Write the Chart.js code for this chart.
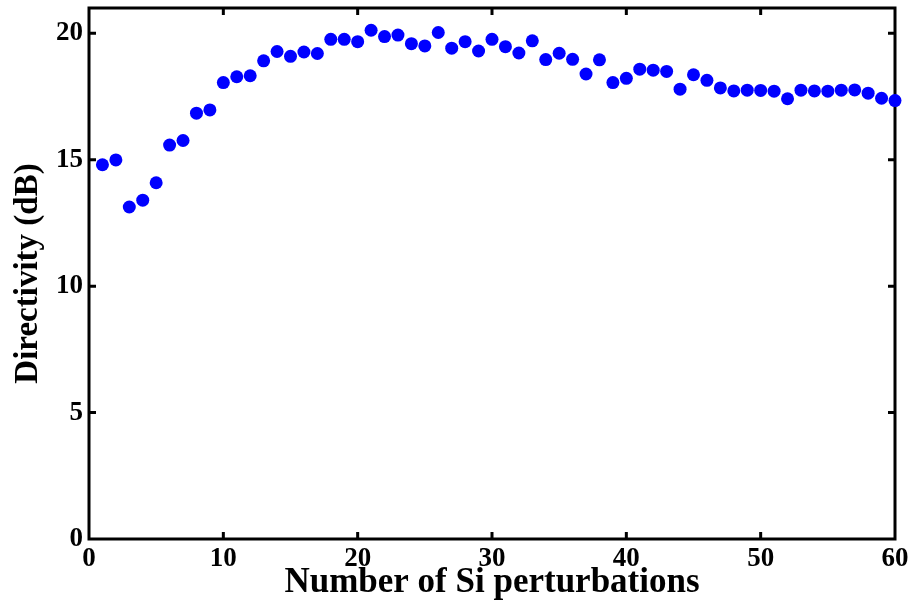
<!DOCTYPE html>
<html>
<head>
<meta charset="utf-8">
<script src="https://cdn.jsdelivr.net/npm/chart.js@4"></script>
<style>
  html, body { margin: 0; padding: 0; background: #fff; }
  #wrap { width: 915px; height: 612px; }
</style>
</head>
<body>
<div id="wrap"><canvas id="dirChart" width="915" height="612"></canvas></div>
<script>
// number of Si perturbations (x) and directivity in dB (y)
const perturbations = [];
for (let n = 1; n <= 60; n++) perturbations.push(n);

const directivity = [
  14.80, 14.99, 13.13, 13.40, 14.09, 15.58, 15.76, 16.84, 16.97, 18.05,
  18.28, 18.32, 18.91, 19.28, 19.09, 19.26, 19.20, 19.76, 19.76, 19.67,
  20.12, 19.87, 19.93, 19.59, 19.50, 20.03, 19.41, 19.67, 19.30, 19.76,
  19.47, 19.22, 19.70, 18.96, 19.21, 18.97, 18.39, 18.95, 18.05, 18.22,
  18.58, 18.54, 18.49, 17.79, 18.36, 18.14, 17.84, 17.72, 17.75, 17.74,
  17.71, 17.41, 17.75, 17.72, 17.71, 17.75, 17.76, 17.63, 17.43, 17.34
];

const xTicks = [0, 10, 20, 30, 40, 50, 60];
const yTicks = [0, 5, 10, 15, 20];

const points = perturbations.map((n, i) => ({ x: n, y: directivity[i] }));

const serif = "'Liberation Serif', 'Times New Roman', serif";

// box round the plot with inward tick marks on all four sides
const framePlugin = {
  id: 'frame',
  beforeDatasetsDraw(chart) {
    const { ctx, chartArea: a, scales } = chart;
    const len = 7;
    ctx.save();
    ctx.strokeStyle = '#000';
    ctx.lineWidth = 3;
    ctx.strokeRect(a.left, a.top, a.right - a.left, a.bottom - a.top);
    ctx.beginPath();
    xTicks.forEach(v => {
      if (v === 0 || v === 60) return;
      const px = scales.x.getPixelForValue(v);
      ctx.moveTo(px, a.bottom); ctx.lineTo(px, a.bottom - len);
      ctx.moveTo(px, a.top); ctx.lineTo(px, a.top + len);
    });
    yTicks.forEach(v => {
      if (v === 0) return;
      const py = scales.y.getPixelForValue(v);
      ctx.moveTo(a.left, py); ctx.lineTo(a.left + len, py);
      ctx.moveTo(a.right, py); ctx.lineTo(a.right - len, py);
    });
    ctx.stroke();
    ctx.restore();
  }
};

new Chart(document.getElementById('dirChart').getContext('2d'), {
  type: 'scatter',
  data: {
    datasets: [{
      data: points,
      backgroundColor: '#0000ff',
      borderColor: '#0000ff',
      pointRadius: 6.5,
      pointBorderWidth: 0,
      clip: false
    }]
  },
  options: {
    responsive: false,
    animation: false,
    layout: { padding: { top: 8, right: 20, left: 0, bottom: 0 } },
    plugins: { legend: { display: false }, tooltip: { enabled: false } },
    scales: {
      x: {
        type: 'linear',
        min: 0, max: 60,
        afterFit: s => { s.height = 73; },
        afterBuildTicks: s => { s.ticks = xTicks.map(v => ({ value: v })); },
        grid: { display: false, drawTicks: false },
        border: { display: false },
        ticks: {
          padding: 4,
          color: '#000',
          maxRotation: 0,
          font: { family: serif, size: 27, weight: 'bold' }
        },
        title: {
          display: true,
          text: 'Number of Si perturbations',
          color: '#000',
          padding: { top: 0, bottom: 8 },
          font: { family: serif, size: 35, weight: 'bold' }
        }
      },
      y: {
        type: 'linear',
        min: 0, max: 21,
        afterFit: s => { s.width = 89; s.paddingTop = 0; s.paddingBottom = 0; },
        afterBuildTicks: s => { s.ticks = yTicks.map(v => ({ value: v })); },
        grid: { display: false, drawTicks: false },
        border: { display: false },
        ticks: {
          padding: 6,
          color: '#000',
          font: { family: serif, size: 27, weight: 'bold' }
        },
        title: {
          display: true,
          text: 'Directivity (dB)',
          color: '#000',
          padding: { top: 9, bottom: 0 },
          font: { family: serif, size: 33, weight: 'bold' }
        }
      }
    }
  },
  plugins: [framePlugin]
});
</script>
</body>
</html>
